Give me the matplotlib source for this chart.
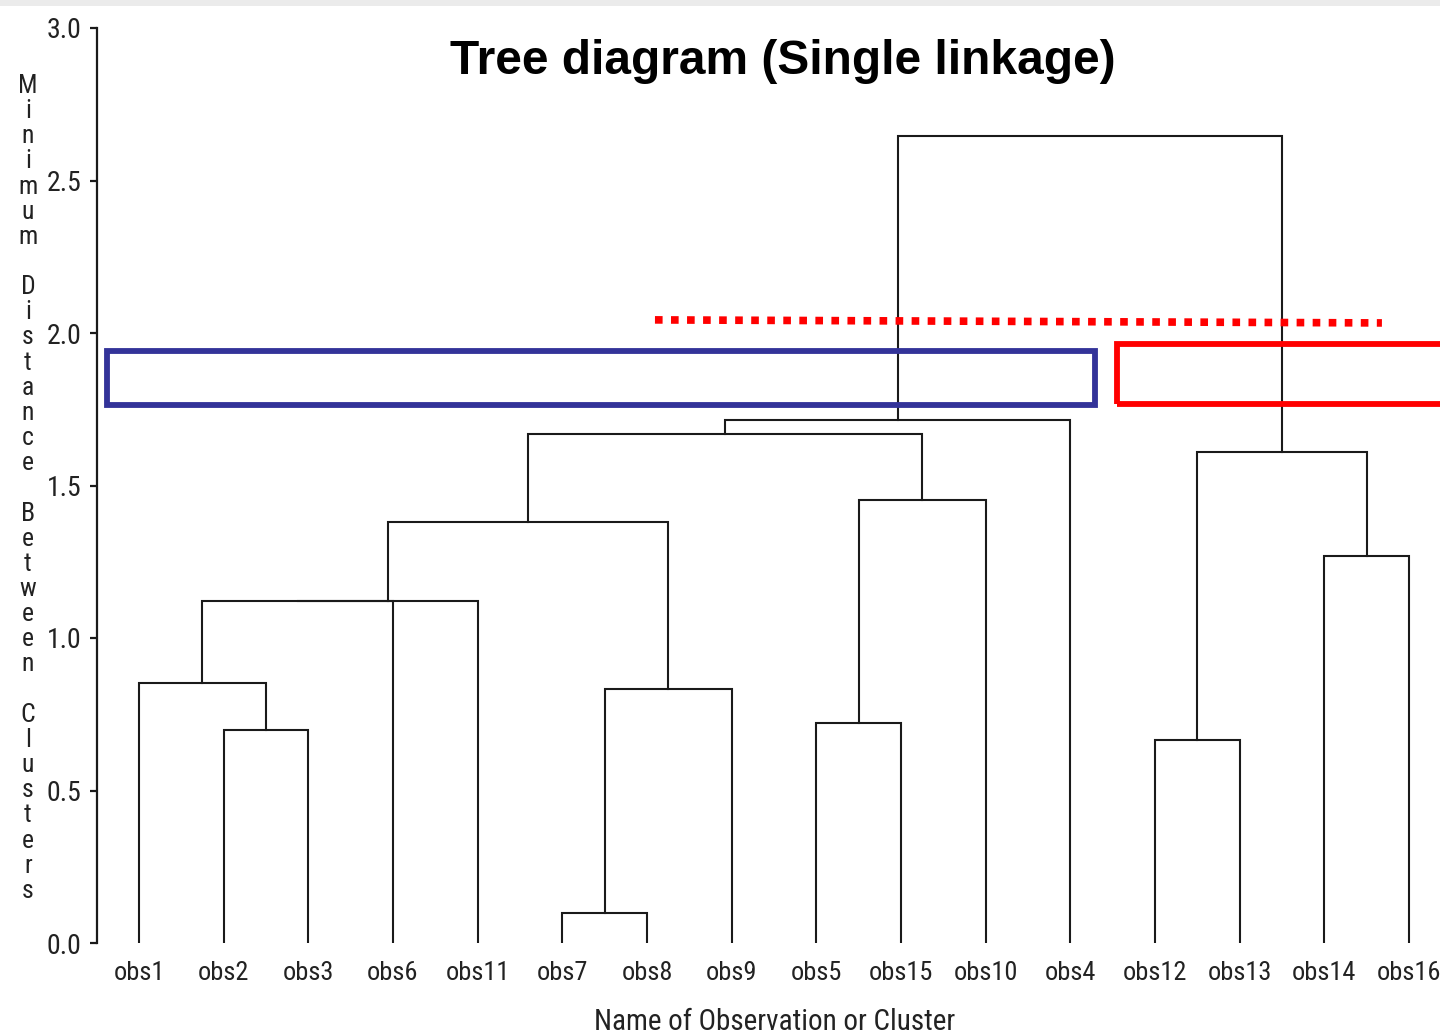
import matplotlib
matplotlib.use("Agg")
import matplotlib.pyplot as plt
from matplotlib import font_manager
from matplotlib.patches import Rectangle

# ---------------- data ----------------
leaves = ["obs1", "obs2", "obs3", "obs6", "obs11", "obs7", "obs8", "obs9",
          "obs5", "obs15", "obs10", "obs4", "obs12", "obs13", "obs14", "obs16"]

# merges: (new cluster name, left child, right child, joining height)
merge_names = ["m1", "m2", "m3", "m4", "m5", "m6", "m7", "m8", "m9", "m10",
               "m11", "m12", "m13", "m14", "m15"]
merge_left = ["obs2", "obs1", "m2", "m3", "obs7", "m5", "m4", "obs5", "m8",
              "m7", "m10", "obs12", "obs14", "m12", "m11"]
merge_right = ["obs3", "m1", "obs6", "obs11", "obs8", "obs9", "m6", "obs15",
               "obs10", "m9", "obs4", "obs13", "obs16", "m13", "m14"]
merge_height = [0.700, 0.852, 1.120, 1.120, 0.098, 0.832, 1.379, 0.721,
                1.451, 1.668, 1.714, 0.666, 1.268, 1.609, 2.646]

yticks = [0.0, 0.5, 1.0, 1.5, 2.0, 2.5, 3.0]
ytick_labels = ["0.0", "0.5", "1.0", "1.5", "2.0", "2.5", "3.0"]

# annotation overlays (data units: x = leaf index, y = distance)
blue_box = (-0.372, 11.29, 1.763, 1.942)      # x0, x1, y0, y1
red_box = (11.556, 15.9, 1.768, 1.965)
cut_line_x = [6.094, 14.68]
cut_line_y = [2.043, 2.033]

title = "Tree diagram (Single linkage)"
ylabel = "Minimum Distance Between Clusters"
xlabel = "Name of Observation or Cluster"

# ---------------- fonts ----------------
available = {f.name for f in font_manager.fontManager.ttflist}
pix_font = "DejaVu Sans"
for cand in ["Roboto Condensed", "PT Sans Narrow", "Archivo Narrow",
             "Open Sans Condensed"]:
    if cand in available:
        pix_font = cand
        break
title_font = "Liberation Sans" if "Liberation Sans" in available else "DejaVu Sans"
txt_color = "#222222"

W, H = 1440, 1035
fig = plt.figure(figsize=(W / 100, H / 100), dpi=100)
fig.patch.set_facecolor("white")

# light grey band at the very top
fig.patches.append(Rectangle((0, 1 - 6 / H), 1, 6 / H, transform=fig.transFigure,
                             facecolor="#ebebeb", edgecolor="none", zorder=0))

ax_left = 97 / W
ax_bottom = (H - 943) / H
ax_top = (H - 28) / H
ax = fig.add_axes([ax_left, ax_bottom, 1 - ax_left, ax_top - ax_bottom])
ax.set_xlim(-0.496, 15.366)
ax.set_ylim(0, 3.0)

# ---------------- dendrogram ----------------
pos = {name: (i, 0.0) for i, name in enumerate(leaves)}
line_kw = dict(color="#1a1a1a", lw=1.5, solid_capstyle="projecting",
               solid_joinstyle="miter")
for name, l, r, h in zip(merge_names, merge_left, merge_right, merge_height):
    xl, hl = pos[l]
    xr, hr = pos[r]
    ax.plot([xl, xl, xr, xr], [hl, h, h, hr], **line_kw)
    pos[name] = ((xl + xr) / 2, h)

# annotations
bx0, bx1, by0, by1 = blue_box
ax.add_patch(Rectangle((bx0, by0), bx1 - bx0, by1 - by0, fill=False,
                       edgecolor="#333399", lw=4.2, joinstyle="miter", zorder=5))
rx0, rx1, ry0, ry1 = red_box
ax.add_patch(Rectangle((rx0, ry0), rx1 - rx0, ry1 - ry0, fill=False,
                       edgecolor="#ff0000", lw=4.2, joinstyle="miter", zorder=5))
ax.plot(cut_line_x, cut_line_y, color="#ff0000", lw=5.5,
        linestyle=(0, (1.0, 1.1)), dash_capstyle="butt", zorder=6)

# ---------------- axes styling ----------------
for s in ["top", "right", "bottom"]:
    ax.spines[s].set_visible(False)
ax.spines["left"].set_linewidth(1.6)
ax.spines["left"].set_color("#1a1a1a")

ax.set_yticks(yticks)
ax.set_yticklabels(ytick_labels, fontfamily=pix_font, fontsize=20, color=txt_color)
ax.tick_params(axis="y", direction="out", length=5, width=1.6, pad=6,
               color="#1a1a1a")

ax.set_xticks(range(len(leaves)))
ax.set_xticklabels(leaves, fontfamily=pix_font, fontsize=19, color=txt_color)
ax.tick_params(axis="x", length=0, pad=13)

# x label
fig.text(775 / W, 1 - 1022 / H, xlabel, ha="center", va="center",
         fontfamily=pix_font, fontsize=21, color=txt_color)

# y label: letters stacked vertically
for i, ch in enumerate(ylabel):
    if ch == " ":
        continue
    fig.text(28 / W, 1 - (86 + 25.15 * i) / H, ch, ha="center", va="center",
             fontfamily=pix_font, fontsize=18.5, color=txt_color)

# title
fig.text(783 / W, 1 - 62 / H, title, ha="center", va="center",
         fontfamily=title_font, fontweight="bold", fontsize=34.5, color="black")

fig.savefig("out.png", dpi=100, facecolor="white")
